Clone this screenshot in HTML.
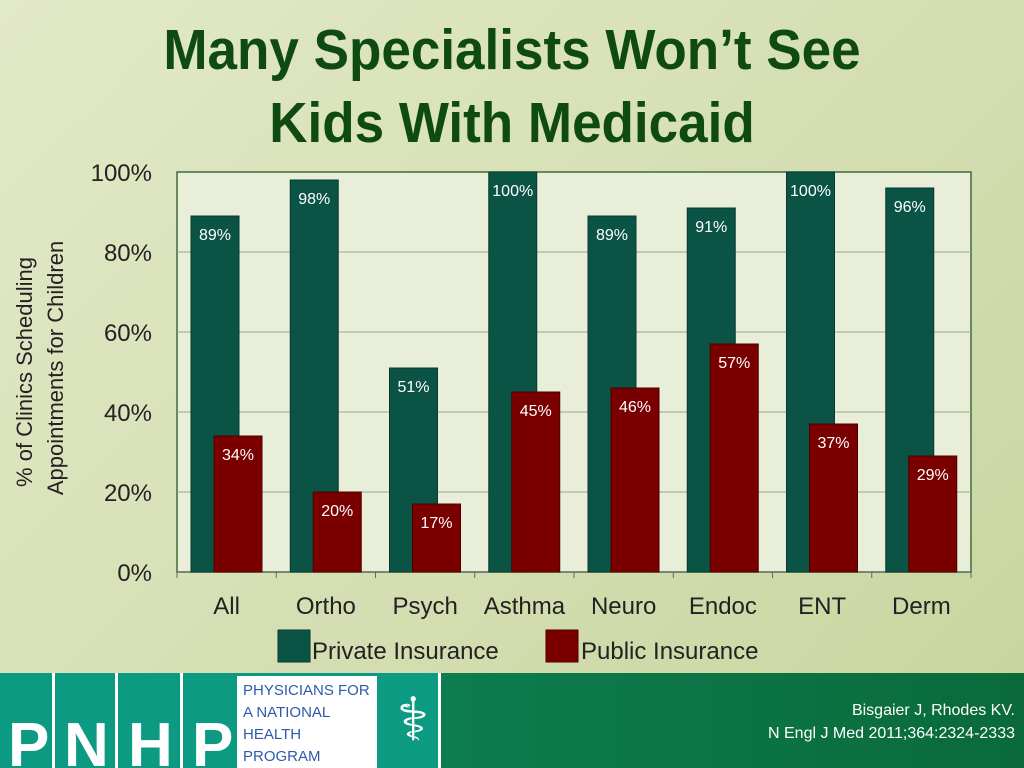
<!DOCTYPE html>
<html><head><meta charset="utf-8"><style>
body{margin:0;width:1024px;height:768px;overflow:hidden;font-family:"Liberation Sans",sans-serif;background:linear-gradient(135deg,#e2e9c8 0%,#d3ddb0 60%,#c7d59d 100%);position:relative}
.t{position:absolute;left:0;width:1024px;text-align:center;color:#0f4a12;font-size:57px;font-weight:bold;line-height:73px;transform:scaleX(0.93);transform-origin:512px 0}
</style></head><body>
<div class="t" style="top:14px">Many Specialists Won’t See<br>Kids With Medicaid</div>
<svg width="1024" height="768" style="position:absolute;left:0;top:0">
<defs><linearGradient id="ft" x1="0" x2="1"><stop offset="0" stop-color="#0f8a5e"/><stop offset="1" stop-color="#0a6a3a"/></linearGradient></defs>
<g id="plot"></g>
<rect x="0" y="673" width="1024" height="95" fill="url(#ft)"/>
<rect x="0" y="673" width="440" height="95" fill="#0d9a82"/>
<g fill="#fff"><rect x="52" y="673" width="3" height="95"/><rect x="115" y="673" width="3" height="95"/><rect x="180" y="673" width="3" height="95"/><rect x="237" y="676" width="140" height="92"/><rect x="438" y="673" width="3" height="95"/></g>
<g font-size="62" font-weight="bold" fill="#fff"><text x="8" y="766">P</text><text x="64" y="766">N</text><text x="128" y="766">H</text><text x="192" y="766">P</text></g>
<g font-size="15" fill="#2e5aa8"><text x="243" y="695">PHYSICIANS FOR</text><text x="243" y="717">A NATIONAL</text><text x="243" y="739">HEALTH</text><text x="243" y="761">PROGRAM</text></g>
<text x="413" y="740" font-size="60" fill="#fff" text-anchor="middle">⚕</text>
<text x="1015" y="715" font-size="16" fill="#fff" text-anchor="end">Bisgaier J, Rhodes KV.</text>
<text x="1015" y="738" font-size="16" fill="#fff" text-anchor="end">N Engl J Med 2011;364:2324-2333</text>
</svg>
<script>
const categories=["All","Ortho","Psych","Asthma","Neuro","Endoc","ENT","Derm"];
const privateVals=[89,98,51,100,89,91,100,96];
const publicVals=[34,20,17,45,46,57,37,29];
const yTicks=[0,20,40,60,80,100];
const X0=177,X1=971,Y0=572,Y1=172,gw=(X1-X0)/categories.length;
const y=v=>Y0-(v/100)*(Y0-Y1);
const ns="http://www.w3.org/2000/svg",g=document.getElementById('plot');
function el(t,a,txt){const e=document.createElementNS(ns,t);for(const k in a)e.setAttribute(k,a[k]);if(txt!=null)e.textContent=txt;g.appendChild(e);return e;}
let bg=el('rect',{x:X0,y:Y1,width:X1-X0,height:Y0-Y1,fill:'#e9eed8',stroke:'#3f6a3a','stroke-width':1.5});


yTicks.forEach(v=>{
 if(v>0&&v<100)el('line',{x1:X0,x2:X1,y1:y(v),y2:y(v),stroke:'#9aa88a','stroke-width':1});
 let t=el('text',{x:152,y:y(v)+9,'font-size':24,fill:'#222','text-anchor':'end'},v+'%');
 
 
});
el('line',{x1:X0,x2:X1,y1:Y0,y2:Y0,stroke:'#666','stroke-width':1});
categories.forEach((c,i)=>{
 const gx=X0+i*gw;
 el('line',{x1:gx,x2:gx,y1:Y0,y2:Y0+6,stroke:'#666'});
 let b=el('rect',{x:gx+14,y:y(privateVals[i]),width:48,height:Y0-y(privateVals[i]),fill:'#0b5345',stroke:'#083a30'});
 
 
 let pl=el('text',{x:gx+38,y:y(privateVals[i])+24,'font-size':16,fill:'#fff','text-anchor':'middle'},privateVals[i]+'%');
 
 
 let p=el('rect',{x:gx+37,y:y(publicVals[i]),width:48,height:Y0-y(publicVals[i]),fill:'#7a0000',stroke:'#4a0000'});
 
 
 let ql=el('text',{x:gx+61,y:y(publicVals[i])+24,'font-size':16,fill:'#fff','text-anchor':'middle'},publicVals[i]+'%');
 
 
 let xl=el('text',{x:gx+gw/2,y:614,'font-size':24,fill:'#222','text-anchor':'middle'},c);
 
 
});
el('line',{x1:X1,x2:X1,y1:Y0,y2:Y0+6,stroke:'#666'});
let yt=el('text',{transform:'translate(32,372) rotate(-90)','font-size':22,fill:'#222','text-anchor':'middle'},'% of Clinics Scheduling');


el('text',{transform:'translate(63,368) rotate(-90)','font-size':22,fill:'#222','text-anchor':'middle'},'Appointments for Children');
let l1=el('rect',{x:278,y:630,width:32,height:32,fill:'#0b5345',stroke:'#083a30'});


el('text',{x:312,y:659,'font-size':24,fill:'#222'},'Private Insurance');
let l2=el('rect',{x:546,y:630,width:32,height:32,fill:'#7a0000',stroke:'#4a0000'});


el('text',{x:581,y:659,'font-size':24,fill:'#222'},'Public Insurance');
</script>
</body></html>
